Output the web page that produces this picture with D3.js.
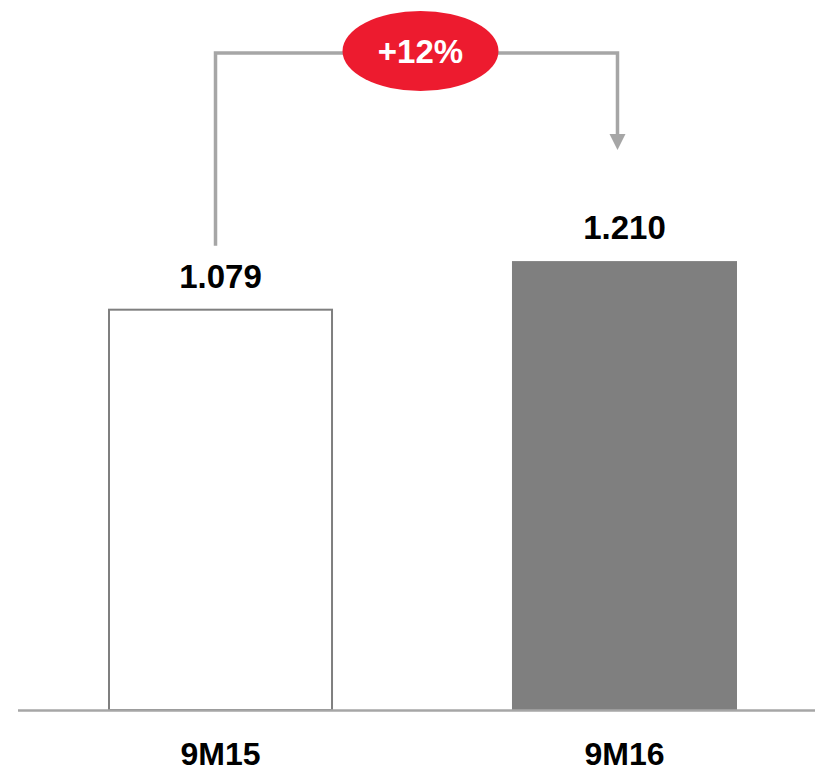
<!DOCTYPE html>
<html>
<head>
<meta charset="utf-8">
<script src="https://cdn.jsdelivr.net/npm/d3@7"></script>
<style>
  html, body { margin: 0; padding: 0; background: #ffffff; }
  svg { display: block; }
  text { font-family: "Liberation Sans", Arial, sans-serif; font-weight: bold; }
</style>
</head>
<body>
<svg id="chart" width="815" height="771"></svg>
<script>
// Period totals
const categories = ["9M15", "9M16"];
const values = [1.079, 1.210];
const valueLabels = ["1.079", "1.210"];
const changeLabel = "+12%";

const svg = d3.select("#chart");
const W = 815, H = 771;
const baseY = 710;

const x = d3.scaleBand()
  .domain(categories)
  .range([108, 737])
  .paddingInner(0.443)
  .paddingOuter(0);

const y = d3.scaleLinear()
  .domain([0, 1.9])
  .range([baseY, baseY - 371 * 1.9]);

// Bars: prior period outlined, current period filled
svg.append("g")
  .selectAll("rect")
  .data(values)
  .join("rect")
  .attr("x", (d, i) => x(categories[i]) + (i === 0 ? 1 : 0))
  .attr("y", d => y(d))
  .attr("width", (d, i) => x.bandwidth() - (i === 0 ? 2 : 0))
  .attr("height", d => baseY - y(d))
  .attr("fill", (d, i) => i === 0 ? "#ffffff" : "#7f7f7f")
  .attr("stroke", (d, i) => i === 0 ? "#7f7f7f" : "none")
  .attr("stroke-width", 2);

// Baseline
svg.append("line")
  .attr("x1", 18).attr("x2", W)
  .attr("y1", baseY + 0.5).attr("y2", baseY + 0.5)
  .attr("stroke", "#a6a6a6")
  .attr("stroke-width", 2.5);

// Value labels
svg.append("g")
  .selectAll("text")
  .data(values)
  .join("text")
  .attr("x", (d, i) => x(categories[i]) + x.bandwidth() / 2)
  .attr("y", d => y(d) - 22)
  .attr("text-anchor", "middle")
  .attr("font-size", 33)
  .attr("fill", "#000000")
  .text((d, i) => valueLabels[i]);

// Category labels
svg.append("g")
  .selectAll("text")
  .data(categories)
  .join("text")
  .attr("x", d => x(d) + x.bandwidth() / 2)
  .attr("y", 765)
  .attr("text-anchor", "middle")
  .attr("font-size", 32)
  .attr("fill", "#000000")
  .text(d => d);

// Growth connector from first bar label to second bar label
const cx0 = x(categories[0]) + x.bandwidth() / 2 - 5;
const cx1 = x(categories[1]) + x.bandwidth() / 2 - 7;
const topY = 53;
const startY = y(values[0]) - 64;
const tipY = y(values[1]) - 111;
const headLen = 16, headHalf = 8;

svg.append("path")
  .attr("d", `M${cx0},${startY} V${topY} H${cx1} V${tipY - headLen + 1}`)
  .attr("fill", "none")
  .attr("stroke", "#a6a6a6")
  .attr("stroke-width", 3.5);

svg.append("path")
  .attr("d", `M${cx1 - headHalf},${tipY - headLen} L${cx1 + headHalf},${tipY - headLen} L${cx1},${tipY} Z`)
  .attr("fill", "#a6a6a6");

// Change badge
const badgeX = (cx0 + cx1) / 2 + 4;
svg.append("ellipse")
  .attr("cx", badgeX)
  .attr("cy", 51)
  .attr("rx", 78)
  .attr("ry", 40)
  .attr("fill", "#ed1b2f");

svg.append("text")
  .attr("x", badgeX)
  .attr("y", 63)
  .attr("text-anchor", "middle")
  .attr("font-size", 33)
  .attr("fill", "#ffffff")
  .text(changeLabel);
</script>
</body>
</html>
